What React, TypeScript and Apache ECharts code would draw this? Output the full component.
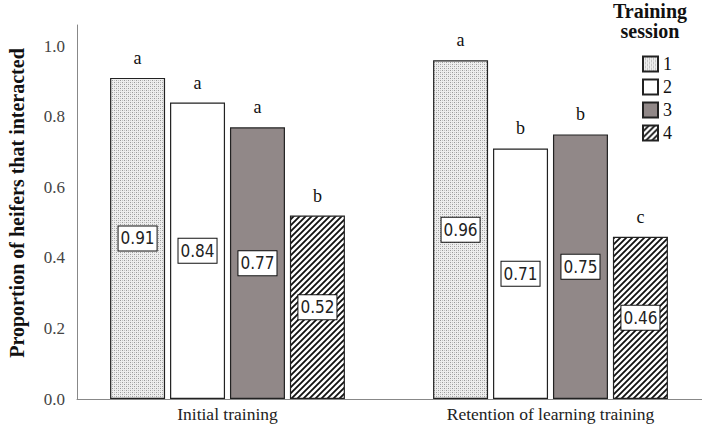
import React, { useEffect, useRef } from "react";
import * as echarts from "echarts";

const categories = ["Initial training", "Retention of learning training"];
const sessions = ["1", "2", "3", "4"];
const values = [
  [0.91, 0.96],
  [0.84, 0.71],
  [0.77, 0.75],
  [0.52, 0.46],
];
const letters = [
  ["a", "a"],
  ["a", "b"],
  ["a", "b"],
  ["b", "c"],
];
const yTicks = [0, 0.2, 0.4, 0.6, 0.8, 1.0];

function makeDots(): HTMLCanvasElement {
  const c = document.createElement("canvas");
  c.width = 4;
  c.height = 4;
  const g = c.getContext("2d")!;
  g.fillStyle = "#eeeeee";
  g.fillRect(0, 0, 4, 4);
  g.fillStyle = "#9a9a9a";
  g.fillRect(0, 0, 1, 1);
  g.fillRect(2, 2, 1, 1);
  g.fillStyle = "#c4c4c4";
  g.fillRect(2, 0, 1, 1);
  g.fillRect(0, 2, 1, 1);
  return c;
}

function makeHatch(): HTMLCanvasElement {
  const s = 6;
  const c = document.createElement("canvas");
  c.width = s;
  c.height = s;
  const g = c.getContext("2d")!;
  g.fillStyle = "#ffffff";
  g.fillRect(0, 0, s, s);
  g.strokeStyle = "#111111";
  g.lineWidth = 1.8;
  g.beginPath();
  g.moveTo(-1, s + 1);
  g.lineTo(s + 1, -1);
  g.moveTo(-1, 1);
  g.lineTo(1, -1);
  g.moveTo(s - 1, s + 1);
  g.lineTo(s + 1, s - 1);
  g.stroke();
  return c;
}

export default function App() {
  const ref = useRef<HTMLDivElement>(null);
  useEffect(() => {
    if (!ref.current) return;
    const chart = echarts.init(ref.current, undefined, { renderer: "svg" });
    const fills: any[] = [
      { image: makeDots(), repeat: "repeat" },
      "#ffffff",
      "#918888",
      { image: makeHatch(), repeat: "repeat" },
    ];
    const serif = "'Liberation Serif', 'Times New Roman', serif";
    const common = {
      type: "bar",
      xAxisIndex: 1,
      yAxisIndex: 1,
      barWidth: 55,
      barGap: "9%",
      barCategoryGap: "27%",
    };
    const barSeries = sessions.map((s, i) => ({
      ...common,
      name: s,
      stack: "st" + i,
      data: values[i],
      itemStyle: { color: fills[i], borderColor: "#222", borderWidth: 1.2 },
      label: {
        show: true,
        position: "inside",
        formatter: (p: any) => p.value.toFixed(2),
        fontFamily: "'DejaVu Sans Condensed', 'Liberation Sans', sans-serif",
        fontSize: 17,
        color: "#222",
        backgroundColor: "#fff",
        borderColor: "#111",
        borderWidth: 1,
        padding: [4, 2, 3, 2],
      },
    }));
    const letterSeries = sessions.map((s, i) => ({
      ...common,
      name: "letters" + s,
      stack: "st" + i,
      data: values[i].map(() => 0),
      itemStyle: { color: "transparent", borderWidth: 0 },
      label: {
        show: true,
        position: "top",
        distance: 11,
        formatter: (p: any) => letters[i][p.dataIndex],
        fontFamily: serif,
        fontSize: 18,
        color: "#111",
      },
    }));
    const yBase = {
      type: "value",
      min: 0,
      max: 1.06,
      interval: 0.2,
      splitLine: { show: false },
      axisTick: { show: false },
    };
    chart.setOption({
      animation: false,
      grid: [
        { left: 77, right: 0, top: 25, bottom: 35, outerBoundsMode: "none" },
        { left: 66, width: 646, top: 25, bottom: 35, outerBoundsMode: "none" },
      ],
      legend: {
        data: sessions,
        orient: "vertical",
        left: 637,
        top: 50,
        itemWidth: 15,
        itemHeight: 15,
        itemGap: 5,
        icon: "rect",
        textStyle: { fontFamily: serif, fontSize: 18, color: "#111" },
      },
      graphic: [
        {
          type: "text",
          x: 650,
          y: 1,
          style: {
            text: "Training\nsession",
            fontFamily: serif,
            fontWeight: "bold",
            fontSize: 20,
            lineHeight: 20,
            fill: "#111",
            align: "center",
          },
        },
        {
          type: "text",
          x: 17,
          y: 203,
          rotation: Math.PI / 2,
          style: {
            text: "Proportion of heifers that interacted",
            fontFamily: serif,
            fontWeight: "bold",
            fontSize: 20,
            fill: "#111",
            align: "center",
            verticalAlign: "middle",
          },
        },
      ],
      xAxis: [
        {
          type: "category",
          gridIndex: 0,
          data: categories,
          axisLine: { lineStyle: { color: "#888", width: 1 } },
          axisTick: { show: false },
          axisLabel: { show: false },
        },
        {
          type: "category",
          gridIndex: 1,
          data: categories,
          axisLine: { show: false },
          axisTick: { show: false },
          axisLabel: { fontFamily: serif, fontSize: 17.5, color: "#222", margin: 6 },
        },
      ],
      yAxis: [
        {
          ...yBase,
          gridIndex: 0,
          axisLine: { show: true, lineStyle: { color: "#888", width: 1 } },
          axisLabel: {
            showMaxLabel: false,
            margin: 12,
            fontFamily: serif,
            fontSize: 17,
            color: "#444",
            formatter: (v: number) => (yTicks.some((t) => Math.abs(t - v) < 1e-6) ? v.toFixed(1) : ""),
          },
        },
        {
          ...yBase,
          gridIndex: 1,
          axisLine: { show: false },
          axisLabel: { show: false },
        },
      ],
      series: [...barSeries, ...letterSeries],
    });
    return () => chart.dispose();
  }, []);
  return (
    <div
      ref={ref}
      style={{ position: "fixed", left: 0, top: 0, width: 702, height: 434, background: "#fff" }}
    />
  );
}
